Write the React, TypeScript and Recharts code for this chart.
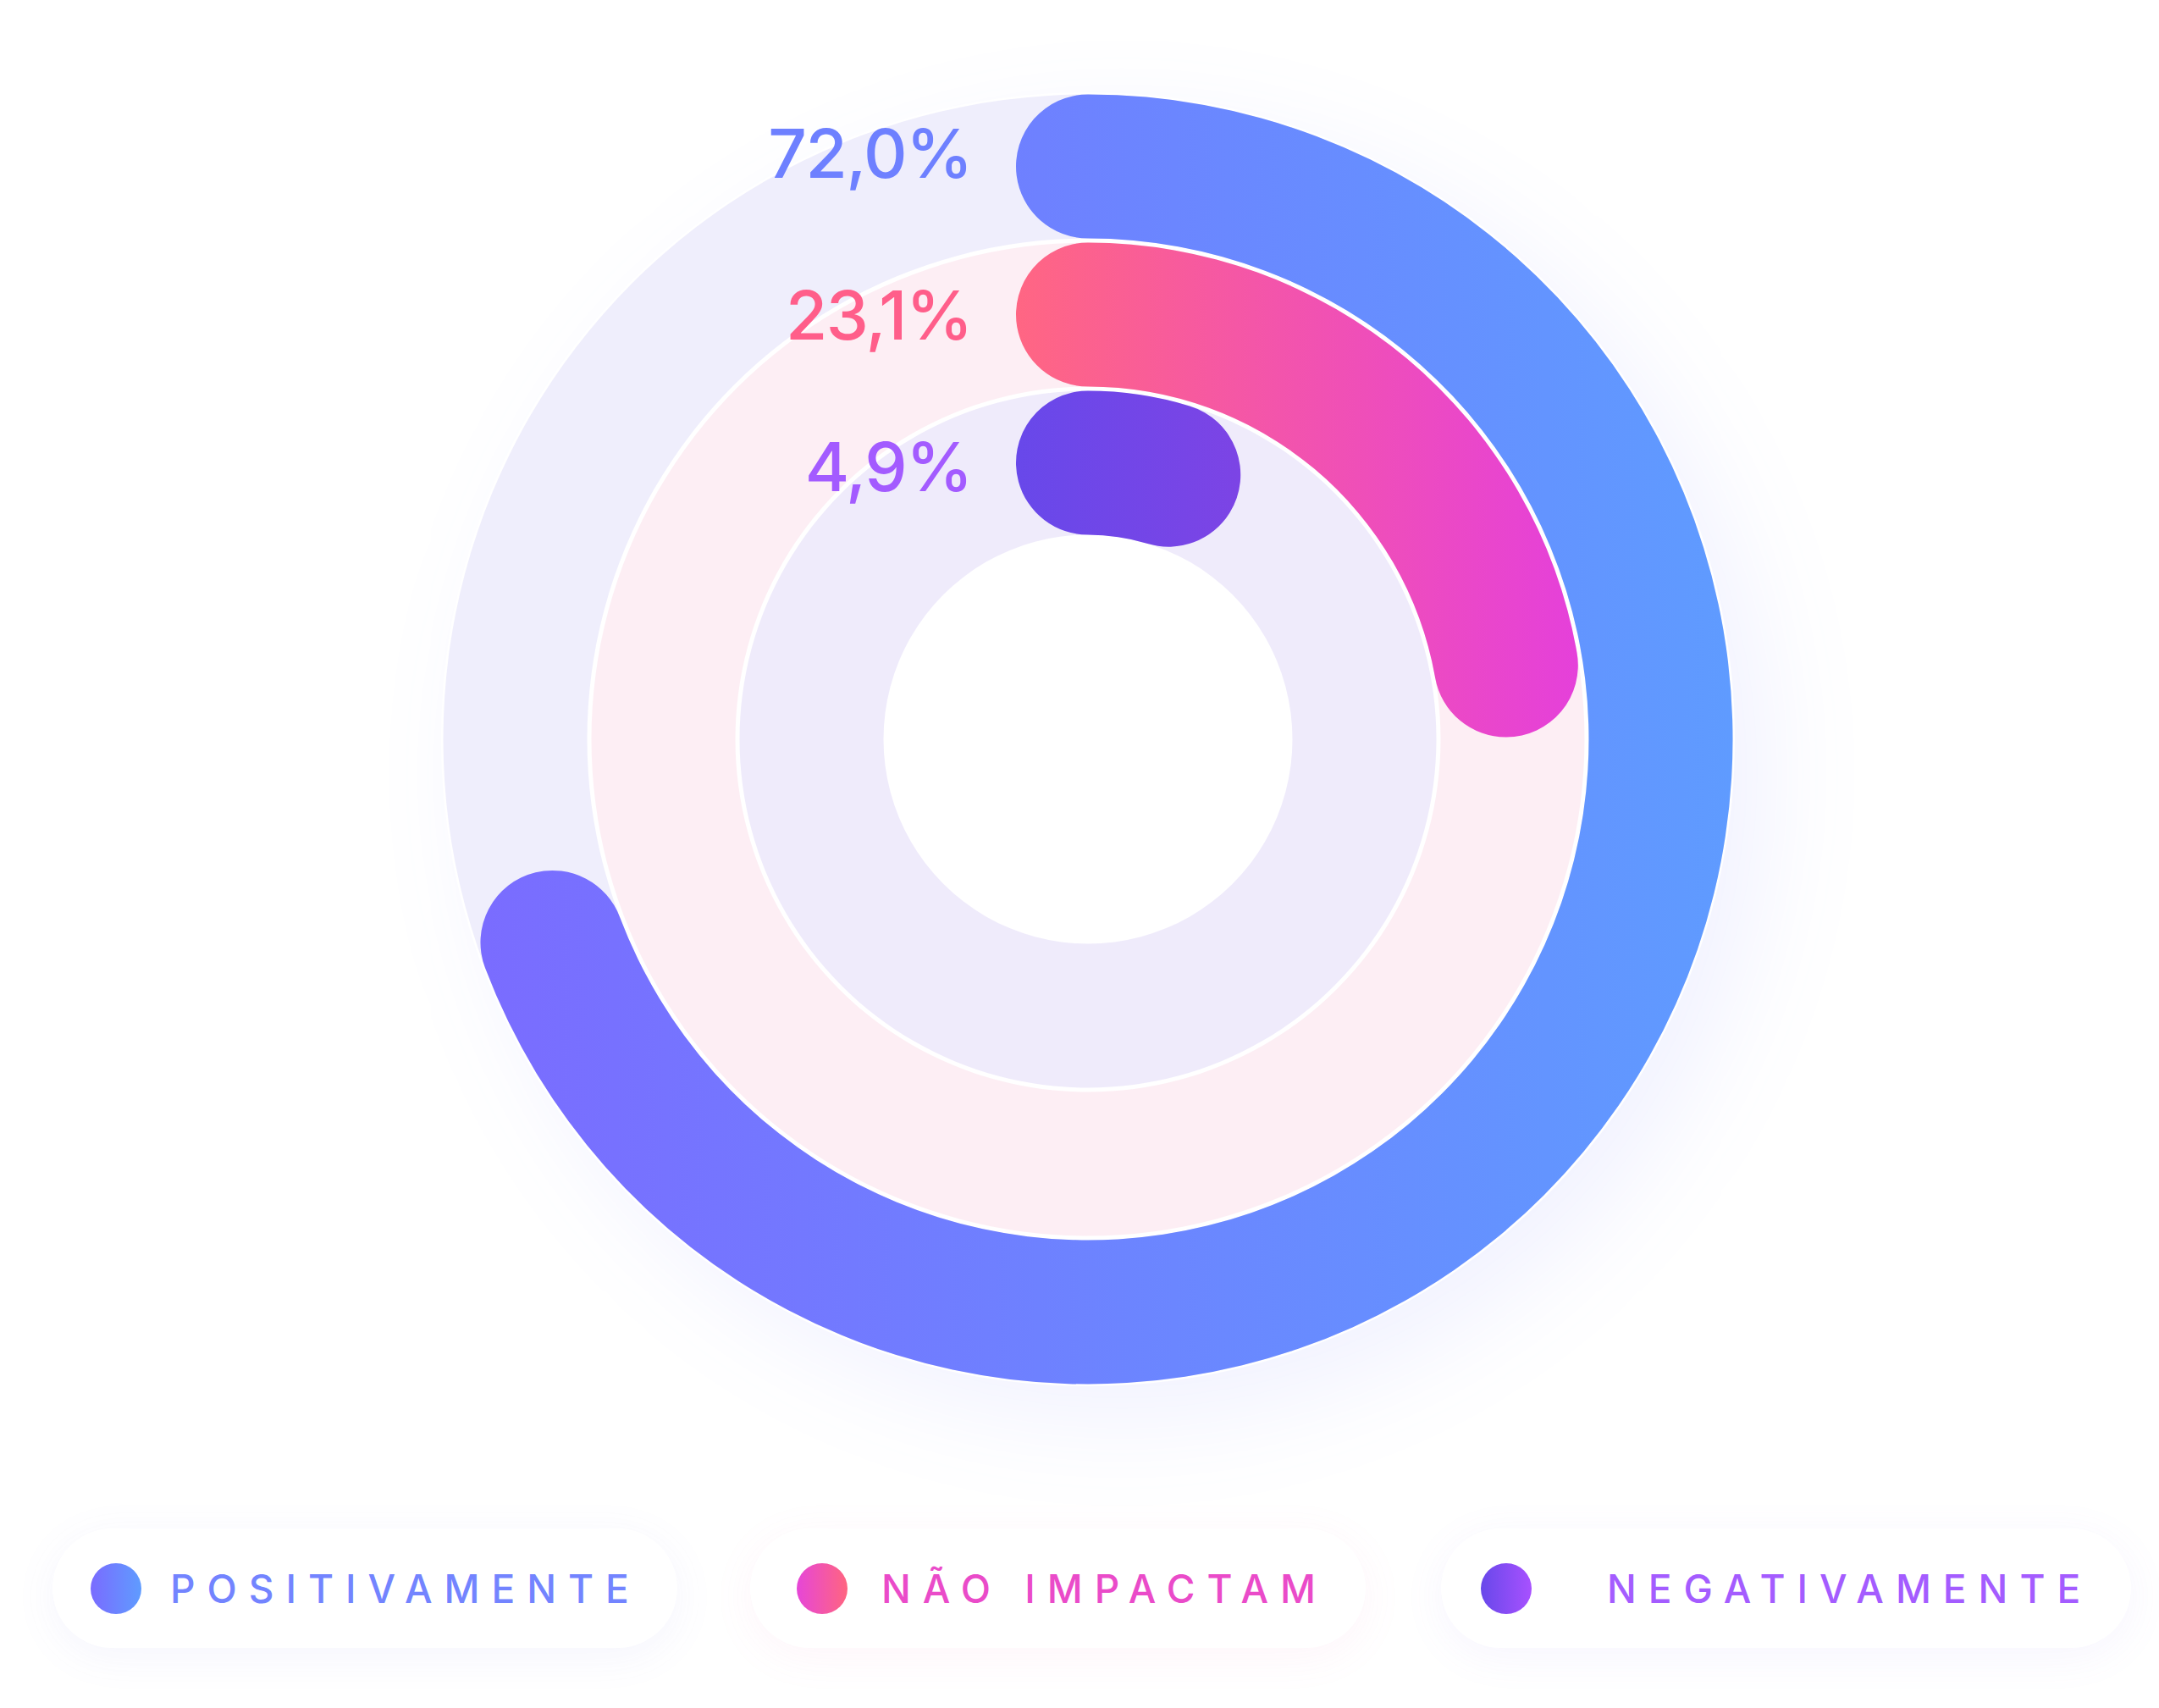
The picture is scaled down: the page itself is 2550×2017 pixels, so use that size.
import React from "react";
import { RadialBarChart, RadialBar, PolarAngleAxis, PolarRadiusAxis, Cell, LabelList } from "recharts";

// legend order (outer ring first)
const categories = ["POSITIVAMENTE", "NÃO IMPACTAM", "NEGATIVAMENTE"];
const values = [72.0, 23.1, 4.9];

const barGradients = [
    ["#7A6CFF", "#5F9BFF"],
    ["#FF6683", "#E540DA"],
    ["#6848EA", "#7C44E5"],
];
const trackColors = ["#EFEEFC", "#FDEEF4", "#EFEBFB"];
const labelColors = ["#6E80FF", "#FF5E8A", "#A35BFF"];
const legendTextColors = ["#7384FF", "#EA4BC9", "#A45CFF"];
const legendDotGradients = [
    ["#7A6BFF", "#5F9CFF"],
    ["#E646D8", "#FF6580"],
    ["#6848EA", "#A851FF"],
];

// radial chart draws the first row innermost
const chartData = categories.map((name, i) => ({ name, value: values[i], idx: i })).reverse();

const CX = 1285;
const CY = 873;
const INNER = 239;
const OUTER = 764;
const CAP = 85;
const labelNudge = [-16, 0, 4];

const pillLayout = [
    { left: 62, width: 738, padLeft: 45, gap: 34, shadow: "rgba(110,120,230,0.07)" },
    { left: 886, width: 727, padLeft: 55, gap: 40, shadow: "rgba(240,110,180,0.07)" },
    { left: 1702, width: 815, padLeft: 47, gap: 89, shadow: "rgba(140,110,240,0.07)" },
];

const fmt = (v: number) => `${v.toFixed(1).replace(".", ",")}%`;

const renderLabel = (props: any) => {
    const vb = props.viewBox || {};
    if (vb.cx == null) return null;
    const r = (vb.innerRadius + vb.outerRadius) / 2;
    const row = chartData[props.index ?? 0];
    const idx = row ? row.idx : 0;
    return (
        <text
            x={vb.cx - CAP - 52}
            y={vb.cy - r + labelNudge[idx]}
            textAnchor="end"
            dominantBaseline="central"
            fill={labelColors[idx]}
            style={{ fontFamily: "Inter", fontSize: 80, fontWeight: 500, letterSpacing: -1.5 }}
        >
            {fmt(values[idx])}
        </text>
    );
};

export default function App() {
    const band = (OUTER - INNER) / 3;
    const s1 = (INNER + band) / OUTER;
    const s2 = (INNER + 2 * band) / OUTER;
    return (
        <div style={{ position: "absolute", left: 0, top: 0, width: 2550, height: 2017, background: "#fff", overflow: "hidden", fontFamily: "Inter" }}>
            {/* soft glow behind the rings */}
            <div
                style={{
                    position: "absolute",
                    left: CX - OUTER,
                    top: CY - OUTER,
                    width: OUTER * 2,
                    height: OUTER * 2,
                    borderRadius: "50%",
                    boxShadow: "40px 40px 120px rgba(120,130,255,0.10)",
                }}
            />
            <div style={{ position: "absolute", left: 0, top: 0 }}>
                <RadialBarChart
                    width={2550}
                    height={1760}
                    data={chartData}
                    cx={CX}
                    cy={CY}
                    innerRadius={INNER}
                    outerRadius={OUTER}
                    startAngle={90}
                    endAngle={-270}
                    barCategoryGap={2.5}
                    margin={{ top: 0, right: 0, bottom: 0, left: 0 }}
                >
                    <defs>
                        {barGradients.map((g, i) => (
                            <linearGradient key={i} id={`barGrad${i}`} x1="0" y1="0" x2="1" y2="0">
                                <stop offset="0%" stopColor={g[0]} />
                                <stop offset="100%" stopColor={g[1]} />
                            </linearGradient>
                        ))}
                        <radialGradient id="trackGrad" gradientUnits="userSpaceOnUse" cx={CX} cy={CY} r={OUTER}>
                            <stop offset={0} stopColor={trackColors[2]} />
                            <stop offset={s1} stopColor={trackColors[2]} />
                            <stop offset={s1} stopColor={trackColors[1]} />
                            <stop offset={s2} stopColor={trackColors[1]} />
                            <stop offset={s2} stopColor={trackColors[0]} />
                            <stop offset={1} stopColor={trackColors[0]} />
                        </radialGradient>
                    </defs>
                    <PolarAngleAxis type="number" domain={[0, 104]} tick={false} axisLine={false} />
                    <PolarRadiusAxis type="category" dataKey="name" tick={false} axisLine={false} />
                    <RadialBar
                        dataKey="value"
                        background={{ fill: "url(#trackGrad)" }}
                        cornerRadius={CAP}
                        cornerIsExternal
                        isAnimationActive={false}
                    >
                        {chartData.map((d) => (
                            <Cell key={d.name} fill={`url(#barGrad${d.idx})`} />
                        ))}
                        <LabelList dataKey="value" content={renderLabel} />
                    </RadialBar>
                </RadialBarChart>
            </div>

            {categories.map((name, i) => {
                const p = pillLayout[i];
                return (
                    <div
                        key={name}
                        style={{
                            position: "absolute",
                            left: p.left,
                            top: 1805,
                            width: p.width,
                            height: 141,
                            borderRadius: 71,
                            background: "#fff",
                            boxShadow: `0 10px 50px ${p.shadow}`,
                            display: "flex",
                            alignItems: "center",
                            paddingLeft: p.padLeft,
                            boxSizing: "border-box",
                        }}
                    >
                        <div
                            style={{
                                width: 60,
                                height: 60,
                                borderRadius: "50%",
                                background: `linear-gradient(90deg, ${legendDotGradients[i][0]}, ${legendDotGradients[i][1]})`,
                                flex: "none",
                            }}
                        />
                        <span
                            style={{
                                marginLeft: p.gap,
                                fontSize: 46,
                                fontWeight: 500,
                                letterSpacing: 14,
                                color: legendTextColors[i],
                                whiteSpace: "pre",
                            }}
                        >
                            {name}
                        </span>
                    </div>
                );
            })}
        </div>
    );
}
